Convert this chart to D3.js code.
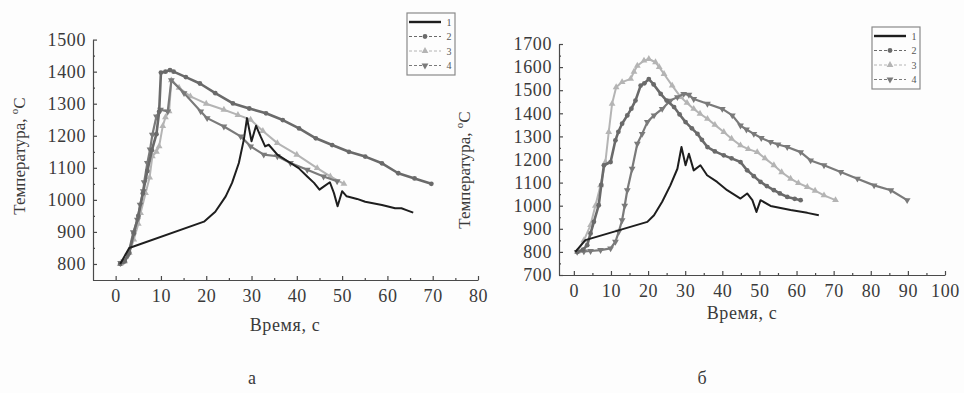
<!DOCTYPE html>
<html>

<head>
    <meta charset='utf-8'>
    <title>Температура</title>
    <script src='https://d3js.org/d3.v7.min.js'></script>
    <style>
        body { margin: 0; background: #fdfdfd; }
    </style>
</head>

<body>
    <script>
        // ---- panel а ----
        const xTicksA = [0, 10, 20, 30, 40, 50, 60, 70, 80];
        const yTicksA = [800, 900, 1000, 1100, 1200, 1300, 1400, 1500];

        const a1 = [[1, 800], [3, 850], [19.5, 932], [22, 963], [24.3, 1011], [25.7, 1053], [27.2, 1115], [28.3, 1188],
            [29, 1255], [30, 1183], [31, 1231], [32, 1198], [33, 1167], [33.8, 1172], [35.7, 1141], [38.6, 1115],
            [40.4, 1099], [42.3, 1073], [43.8, 1053], [45, 1032], [46, 1042], [47.3, 1055], [48.2, 1021], [49, 980],
            [50, 1027], [51, 1011], [53.3, 1003], [55.1, 994], [58.8, 984], [61.7, 974], [63.1, 974], [64.2, 968], [65.7, 960]];
        const a2 = [[1, 800], [2, 808], [3, 835], [4, 895], [5, 950], [6, 1020], [7, 1090], [8, 1155], [9, 1205],
            [9.6, 1275], [10, 1397], [11, 1400], [12, 1405], [12.8, 1400], [15.5, 1383], [18.6, 1363], [22, 1333],
            [25.9, 1301], [29.5, 1285], [33.2, 1270], [36.9, 1249], [40.5, 1223], [44.2, 1192], [47.8, 1171],
            [51.5, 1150], [55.1, 1135], [58.8, 1114], [62.4, 1083], [66, 1067], [69.7, 1050]];
        const a3 = [[1, 800], [2, 808], [3, 835], [4, 876], [5, 925], [5.5, 959], [6.6, 1021], [7.5, 1070], [8.1, 1136],
            [9, 1150], [9.6, 1167], [10.4, 1230], [11, 1258], [11.8, 1276], [12.3, 1373], [14, 1350], [16.5, 1323],
            [20, 1300], [23.9, 1281], [27, 1265], [29.8, 1250], [32.5, 1215], [35.7, 1177], [40, 1141], [44.5, 1099],
            [47.4, 1073], [50.4, 1050]];
        const a4 = [[1.1, 803], [1.8, 808], [2.7, 826], [3.9, 899], [4.8, 938], [5.4, 985], [6.1, 1027], [6.3, 1055],
            [7, 1115], [7.6, 1157], [8.1, 1203], [9, 1260], [9.9, 1281], [11.5, 1276], [12.3, 1373], [15.1, 1333],
            [18.8, 1276], [20.2, 1255], [23.9, 1229], [27.6, 1198], [29.8, 1167], [32.7, 1141], [35.7, 1136],
            [38.6, 1115], [42.3, 1094], [45.9, 1073], [48.9, 1058]];

        // ---- panel б ----
        const xTicksB = [0, 10, 20, 30, 40, 50, 60, 70, 80, 90, 100];
        const yTicksB = [700, 800, 900, 1000, 1100, 1200, 1300, 1400, 1500, 1600, 1700];

        const b1 = [[0.4, 800], [3.1, 851], [19.8, 930], [21.6, 959], [23.8, 1017], [26, 1088], [27.9, 1160], [29, 1254],
            [30.1, 1175], [31, 1225], [32.3, 1153], [34.1, 1175], [35.9, 1132], [38.6, 1103], [41.3, 1067], [44.9, 1031],
            [46.7, 1053], [48.1, 1024], [49.2, 973], [50.3, 1024], [53, 999], [58.4, 981], [62.9, 969], [66, 959]];
        const b2 = [[0.9, 800], [2.5, 810], [3.6, 829], [4.5, 880], [5.4, 930], [6.7, 1002], [7.4, 1090], [8.1, 1175],
            [9.9, 1189], [11.2, 1283], [12, 1320], [13, 1355], [14.4, 1391], [15.5, 1420], [16.6, 1455], [18, 1520],
            [19, 1530], [20.2, 1548], [21.5, 1525], [23.4, 1484], [25, 1455], [27, 1427], [28.5, 1395], [30.1, 1362],
            [31.8, 1335], [33.3, 1311], [34.5, 1285], [36, 1254], [38, 1235], [40.4, 1218], [42.5, 1205], [44.9, 1189],
            [46.7, 1153], [48.5, 1128], [50.3, 1103], [52, 1085], [53.9, 1067], [55.5, 1053], [57.5, 1038],
            [59.5, 1030], [61.1, 1024]];
        const b3 = [[0.9, 800], [2.7, 850], [4.5, 916], [5.8, 1000], [7.2, 1088], [8.5, 1189], [9.4, 1319], [10.3, 1441],
            [11.4, 1513], [13, 1535], [15.3, 1549], [16.2, 1580], [17.1, 1606], [18.9, 1628], [20.2, 1635], [22, 1621],
            [23, 1600], [24.3, 1570], [26.5, 1520], [28.8, 1470], [30.5, 1445], [32.3, 1419], [34, 1398], [36, 1376],
            [38, 1350], [40.4, 1319], [42.5, 1290], [44.9, 1261], [47, 1245], [49.4, 1232], [51.5, 1205], [53.9, 1175],
            [56, 1145], [58.4, 1117], [60.5, 1098], [62.9, 1081], [65, 1065], [67.4, 1045], [70.5, 1024]];
        const b4 = [[0.9, 800], [2.7, 802], [4.5, 804], [7.2, 808], [9.9, 815], [11.2, 844], [12.1, 887], [13, 937],
            [13.7, 1000], [14.4, 1067], [15.7, 1160], [17.1, 1268], [18.4, 1311], [19.8, 1362], [21.6, 1391],
            [23.8, 1419], [26, 1455], [27.9, 1470], [29.6, 1484], [31, 1480], [32.3, 1462], [36, 1441], [40, 1419],
            [42.7, 1391], [44.9, 1347], [46.5, 1330], [48.5, 1311], [50.5, 1293], [53, 1276], [55, 1265], [57.5, 1254],
            [61.1, 1232], [63.8, 1196], [67.4, 1175], [71.9, 1146], [76.4, 1117], [80.9, 1088], [85.4, 1067], [89.8, 1024]];

        const legendLabels = ['1', '2', '3', '4'];

        // series styles: colour, stroke width, marker
        const styles = [
            { color: '#1e1e1e', width: 2, marker: null },
            { color: '#6a6a6a', width: 2.6, marker: 'circle' },
            { color: '#b4b4b4', width: 2, marker: 'up' },
            { color: '#7a7a7a', width: 2.2, marker: 'down' }
        ];

        const serif = "'Liberation Serif', 'Times New Roman', Times, 'DejaVu Serif', serif";

        const W = 964, H = 393;
        const svg = d3.select('body')
            .append('svg')
            .attr('width', W)
            .attr('height', H)
            .style('display', 'block');

        svg.append('rect').attr('width', W).attr('height', H).attr('fill', '#fdfdfd');

        function markerPath(kind) {
            if (kind === 'circle') return d3.symbol(d3.symbolCircle, 18)();
            return d3.symbol(d3.symbolTriangle, 20)();
        }

        function drawPanel(cfg) {
            const x = d3.scaleLinear().domain(cfg.xDomain).range(cfg.xRange);
            const y = d3.scaleLinear().domain(cfg.yDomain).range(cfg.yRange);
            const g = svg.append('g');

            // series, drawn back to front
            const order = [2, 3, 1, 0];
            order.forEach(i => {
                const st = styles[i];
                const data = cfg.series[i];
                g.append('path')
                    .datum(data)
                    .attr('fill', 'none')
                    .attr('stroke', st.color)
                    .attr('stroke-width', st.width)
                    .attr('stroke-linejoin', 'round')
                    .attr('d', d3.line().x(d => x(d[0])).y(d => y(d[1])));
                if (st.marker) {
                    g.selectAll('.m' + i)
                        .data(data)
                        .enter()
                        .append('path')
                        .attr('class', 'm' + i)
                        .attr('d', markerPath(st.marker))
                        .attr('fill', st.color)
                        .attr('transform', d => 'translate(' + x(d[0]) + ',' + y(d[1]) + ')' + (st.marker === 'down' ? ' rotate(180)' : ''));
                }
            });

            // axes, ticks pointing inward
            const x0 = cfg.xRange[0], y0 = cfg.yRange[0];
            const xMinor = d3.range(cfg.xTicks[0] + 5, cfg.xTicks[cfg.xTicks.length - 1], 10);
            const yMinor = d3.range(cfg.yTicks[0] + 50, cfg.yTicks[cfg.yTicks.length - 1], 100);
            if (cfg.yDomain[0] < cfg.yTicks[0]) yMinor.unshift(cfg.yTicks[0] - 50);

            const gx = g.append('g').attr('transform', 'translate(0,' + y0 + ')')
                .call(d3.axisBottom(x).tickValues(cfg.xTicks).tickSize(-4).tickSizeOuter(0).tickPadding(9));
            g.append('g').attr('transform', 'translate(0,' + y0 + ')')
                .call(d3.axisBottom(x).tickValues(xMinor).tickSize(-2).tickSizeOuter(0).tickFormat(''))
                .select('.domain').remove();
            const gy = g.append('g').attr('transform', 'translate(' + x0 + ',0)')
                .call(d3.axisLeft(y).tickValues(cfg.yTicks).tickSize(-4).tickSizeOuter(0).tickPadding(7).tickFormat(d3.format('d')));
            g.append('g').attr('transform', 'translate(' + x0 + ',0)')
                .call(d3.axisLeft(y).tickValues(yMinor).tickSize(-2).tickSizeOuter(0).tickFormat(''))
                .select('.domain').remove();

            g.selectAll('.domain, .tick line').attr('stroke', '#4a4a4a').attr('stroke-width', 1.2);
            [gx, gy].forEach(a => a.selectAll('text')
                .attr('fill', '#3a3a3a')
                .style('font-size', '18px')
                .style('font-family', serif)
                .attr('letter-spacing', 0.6));

            // axis titles
            g.append('text')
                .attr('x', cfg.xTitle[0]).attr('y', cfg.xTitle[1])
                .attr('text-anchor', 'middle')
                .style('font-family', serif)
                .style('font-size', '18px').attr('fill', '#3a3a3a')
                .attr('letter-spacing', 0.6)
                .text('Время, с');
            const yt = g.append('text')
                .attr('transform', 'translate(' + cfg.yTitle[0] + ',' + cfg.yTitle[1] + ') rotate(-90)')
                .attr('text-anchor', 'middle')
                .style('font-family', serif)
                .style('font-size', '17px').attr('fill', '#3a3a3a')
                .text('Температура, ');
            yt.append('tspan').style('font-size', '11px').attr('dy', -7).text('o');
            yt.append('tspan').attr('dy', 7).text('C');

            // panel letter
            g.append('text')
                .attr('x', cfg.letter[0]).attr('y', cfg.letter[1])
                .attr('text-anchor', 'middle')
                .style('font-family', serif)
                .style('font-size', '18px').attr('fill', '#3a3a3a')
                .text(cfg.name);

            // legend
            const lg = g.append('g').attr('transform', 'translate(' + cfg.legend[0] + ',' + cfg.legend[1] + ')');
            lg.append('rect')
                .attr('width', 48).attr('height', 62)
                .attr('fill', 'none').attr('stroke', '#8a8a8a').attr('stroke-width', 1.2);
            legendLabels.forEach((lab, i) => {
                const st = styles[i];
                const ly = 9 + i * 14.5;
                lg.append('line')
                    .attr('x1', 2).attr('x2', 34).attr('y1', ly).attr('y2', ly)
                    .attr('stroke', st.color)
                    .attr('stroke-width', i === 0 ? 2.4 : 1)
                    .attr('stroke-dasharray', i === 0 ? null : '3,2');
                if (st.marker) {
                    lg.append('path')
                        .attr('d', markerPath(st.marker))
                        .attr('fill', st.color)
                        .attr('transform', 'translate(18,' + ly + ')' + (st.marker === 'down' ? ' rotate(180)' : ''));
                }
                lg.append('text')
                    .attr('x', 42).attr('y', ly + 3.5)
                    .attr('text-anchor', 'middle')
                    .style('font-family', serif)
                    .style('font-size', '10px').attr('fill', '#555')
                    .text(lab);
            });
        }

        drawPanel({
            name: 'а',
            series: [a1, a2, a3, a4],
            xDomain: [-5, 80], xRange: [93, 478],
            yDomain: [750, 1500], yRange: [280, 39.6],
            xTicks: xTicksA, yTicks: yTicksA,
            xTitle: [285, 331], yTitle: [25, 156],
            letter: [252, 384],
            legend: [407, 13]
        });

        drawPanel({
            name: 'б',
            series: [b1, b2, b3, b4],
            xDomain: [-4, 100], xRange: [559, 945],
            yDomain: [700, 1700], yRange: [275, 44],
            xTicks: xTicksB, yTicks: yTicksB,
            xTitle: [742, 319], yTitle: [470, 170],
            letter: [702, 384],
            legend: [872, 27]
        });
    </script>
</body>

</html>
